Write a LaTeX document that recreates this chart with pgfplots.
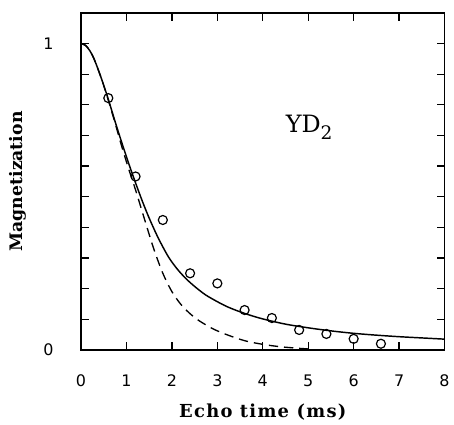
\documentclass[border=0pt]{standalone}
\usepackage{fontspec}
\setmainfont{DejaVu Serif}
\newfontfamily\tickfont{DejaVu Sans}
\newfontfamily\xlabfont[LetterSpace=7]{DejaVu Serif}
\usepackage{pgfplots}
\pgfplotsset{compat=1.18}

% measured data (echo time in ms, normalised magnetization)
\pgfplotstableread{
t     m
0.6   0.822
1.2   0.566
1.8   0.424
2.4   0.250
3.0   0.217
3.6   0.130
4.2   0.104
4.8   0.065
5.4   0.052
6.0   0.036
6.6   0.020
}\meas

\begin{document}
\begin{tikzpicture}
\begin{axis}[
    scale only axis,
    width=274pt, height=254pt,
    xmin=0, xmax=8, ymin=0, ymax=1.1,
    axis line style={line width=1pt},
    xtick={0,1,...,8},
    ytick={0,0.1,0.2,0.3,0.4,0.5,0.6,0.7,0.8,0.9,1.0},
    yticklabels={0,,,,,,,,,,1},
    xtick pos=both, ytick pos=both,
    tick align=inside,
    major tick length=6pt,
    every tick/.style={line width=0.9pt, black},
    /pgf/number format/assume math mode=true,
    ticklabel style={font=\tickfont\fontsize{12}{12}\selectfont},
    xticklabel style={anchor=center, yshift=-23pt},
    yticklabel style={anchor=center, xshift=-24.5pt},
    xlabel={Echo time (ms)},
    ylabel={Magnetization},
    xlabel style={font=\xlabfont\bfseries\fontsize{13.5}{13.5}\selectfont,
        at={(axis description cs:0.5,-0.201)}, anchor=base},
    ylabel style={font=\bfseries\fontsize{13}{13}\selectfont,
        at={(axis description cs:-0.175,0.5)}, anchor=center},
    clip=false,
]
% fitted curve
\addplot[black, line width=1.1pt, smooth] coordinates {
(0,1) (0.1,0.994) (0.2,0.975) (0.3,0.945) (0.45,0.885) (0.6,0.818)
(0.75,0.745) (0.9,0.675) (1.05,0.608) (1.2,0.545) (1.35,0.485)
(1.5,0.43) (1.7,0.365) (1.93,0.302) (2.15,0.258) (2.37,0.224)
(2.6,0.195) (2.8,0.174) (3.2,0.142) (3.6,0.119) (4.0,0.101)
(4.5,0.084) (5.0,0.072) (5.5,0.062) (6.0,0.054) (6.5,0.048)
(7.0,0.043) (7.5,0.039) (8.0,0.035)};
% gaussian-like curve
\addplot[black, line width=1pt, dash pattern=on 7pt off 4.5pt, smooth] coordinates {
(0,1) (0.1,0.994) (0.2,0.975) (0.3,0.945) (0.45,0.885) (0.6,0.815)
(0.75,0.74) (0.9,0.662) (1.05,0.59) (1.2,0.522) (1.4,0.425)
(1.6,0.33) (1.8,0.25) (2.0,0.19) (2.2,0.148) (2.4,0.118)
(2.6,0.095) (2.9,0.069) (3.2,0.05) (3.6,0.03) (4.0,0.018)
(4.4,0.01) (4.8,0.005) (5.0,0.003)};
\addplot[only marks, mark=o, mark size=3.4pt, mark options={line width=0.9pt, black}]
    table[x=t, y=m] {\meas};
\node[anchor=base, font=\fontsize{18}{18}\selectfont]
    at (axis cs:5.02,0.709) {YD\raisebox{-0.28em}{\fontsize{14}{14}\selectfont 2}};
\end{axis}
\path (current axis.south west) ++(-61.1pt,-53.25pt) coordinate (bl);
\path (current axis.north east) ++(5.25pt,9.75pt) coordinate (tr);
\path (bl) rectangle (tr);
\end{tikzpicture}
\end{document}
